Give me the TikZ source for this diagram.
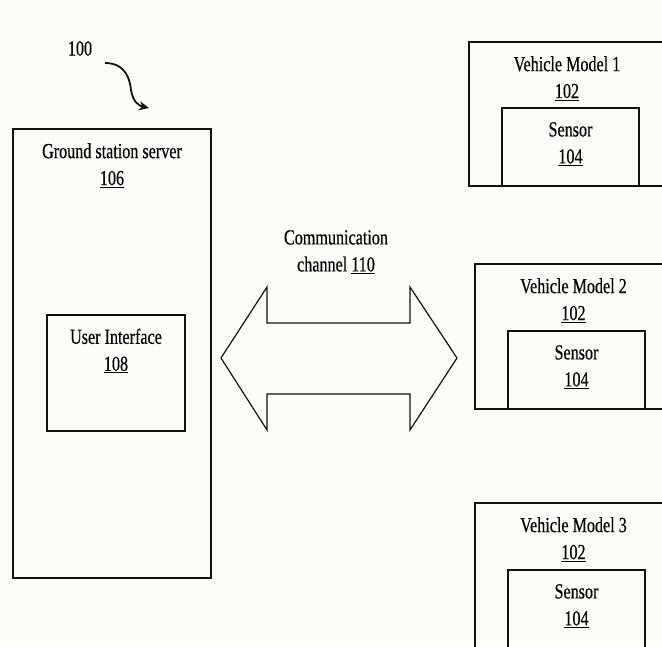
\documentclass[tikz,border=0pt]{standalone}
\usepackage{fontspec}
\setmainfont{Liberation Serif}[FakeStretch=0.75,FakeBold=0.4]
\usetikzlibrary{arrows.meta,positioning,calc}
\definecolor{paper}{HTML}{FDFDF8}
\definecolor{ink}{HTML}{111111}

\begin{document}
\begin{tikzpicture}[
  x=1pt,y=-1pt,
  box/.style={draw=ink,line width=2pt,inner sep=0pt,anchor=north west},
  boxtext/.style={align=center,inner sep=0pt,anchor=north,font=\fontsize{21.5}{27}\selectfont},
  pipe/.style={draw=ink,line width=1.2pt,line join=miter},
  arr/.style={-{Stealth[length=10pt,width=9pt]},line width=1.8pt,draw=ink}
]
\fill[paper] (0,0) rectangle (662,646);
\useasboundingbox (0,0) rectangle (662,646);
% ground station side
\node[box,minimum width=198pt,minimum height=449pt] (server) at (12,128) {};
\node[boxtext,below=15pt of server.north] (servertext) {Ground station server\\\underline{106}};
\node[box,minimum width=138pt,minimum height=116pt] (ui) at (46,314) {};
\node[boxtext,below=14.5pt of ui.north] (uitext) {User Interface\\\underline{108}};
% reference numeral
\node[boxtext] (ref) at (80,41) {100};
\coordinate (reftail) at (105,63);
\coordinate (refhead) at (149,108);
\draw[arr] (reftail) .. controls (126,63) and (130,80) .. (131,90) .. controls (133,103) and (140,106) .. (refhead);
% vehicles
\node[box,minimum width=196pt,minimum height=144pt] (vm1) at (468,41) {};
\node[boxtext,below=15pt of vm1.north] (vm1text) {Vehicle Model 1\\\underline{102}};
\node[box,minimum width=137pt,minimum height=78pt,anchor=south west] (sensor1) at ($(vm1.south west)+(33,0)$) {};
\node[boxtext,below=15pt of sensor1.north] (sensor1text) {Sensor\\\underline{104}};
\node[box,minimum width=197pt,minimum height=145pt] (vm2) at (474,263) {};
\node[boxtext,below=15pt of vm2.north] (vm2text) {Vehicle Model 2\\\underline{102}};
\node[box,minimum width=137pt,minimum height=78pt,anchor=south west] (sensor2) at ($(vm2.south west)+(33,0)$) {};
\node[boxtext,below=15pt of sensor2.north] (sensor2text) {Sensor\\\underline{104}};
\node[box,minimum width=197pt,minimum height=148pt] (vm3) at (474,502) {};
\node[boxtext,below=15pt of vm3.north] (vm3text) {Vehicle Model 3\\\underline{102}};
\node[box,minimum width=137pt,minimum height=81pt,anchor=south west] (sensor3) at ($(vm3.south west)+(33,0)$) {};
\node[boxtext,below=15pt of sensor3.north] (sensor3text) {Sensor\\\underline{104}};
% communication channel
\node[boxtext] (chantext) at (336,230) {Communication\\channel \underline{110}};
\coordinate (chan) at (339,358);
\draw[pipe,shift={(chan)}] (-118,0) -- (-72,-71) -- (-72,-35) -- (71,-35) -- (71,-71) -- (118,0)
  -- (71,72) -- (71,36) -- (-72,36) -- (-72,72) -- cycle;
\end{tikzpicture}
\end{document}
